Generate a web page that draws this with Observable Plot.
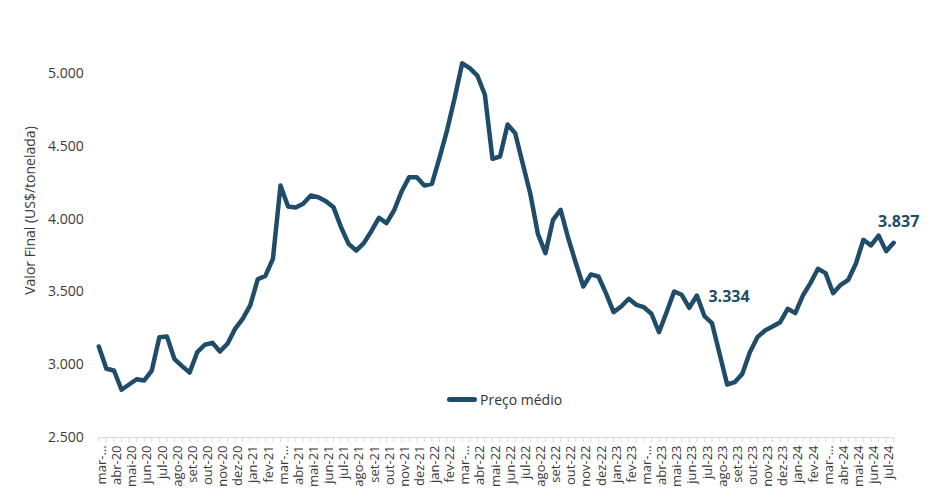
<!DOCTYPE html>
<html><head><meta charset="utf-8">
<script src="https://cdn.jsdelivr.net/npm/d3@7"></script>
<script src="https://cdn.jsdelivr.net/npm/@observablehq/plot@0.6"></script>
<style>
body{margin:0;background:#fff;font-family:"Open Sans",sans-serif;}
#wrap{position:relative;width:928px;height:500px;}
#legend{position:absolute;left:447px;top:390px;display:flex;align-items:center;font-size:14px;color:#333;white-space:nowrap;}
#legend .sw{display:inline-block;width:30px;height:5px;background:#1f4d69;border-radius:2.5px;margin-right:3px;}
</style></head><body>
<div id="wrap"><div id="legend"><span class="sw"></span>Preço médio</div></div>
<script>
const monthLabels = [
  "mar-20","abr-20","mai-20","jun-20","jul-20","ago-20","set-20","out-20","nov-20","dez-20",
  "jan-21","fev-21","mar-21","abr-21","mai-21","jun-21","jul-21","ago-21","set-21","out-21","nov-21","dez-21",
  "jan-22","fev-22","mar-22","abr-22","mai-22","jun-22","jul-22","ago-22","set-22","out-22","nov-22","dez-22",
  "jan-23","fev-23","mar-23","abr-23","mai-23","jun-23","jul-23","ago-23","set-23","out-23","nov-23","dez-23",
  "jan-24","fev-24","mar-24","abr-24","mai-24","jun-24","jul-24"
];
const precoMedio = [
  3125, 2972, 2960, 2828, 2864, 2900, 2892, 2960, 3189, 3194,
  3038, 2990, 2946, 3086, 3137, 3150, 3091, 3144, 3246, 3315,
  3407, 3587, 3610, 3727, 4231, 4087, 4080, 4105, 4162, 4150,
  4123, 4082, 3944, 3830, 3784, 3835, 3917, 4009, 3972, 4059,
  4190, 4288, 4288, 4231, 4242, 4420, 4610, 4830, 5070, 5037,
  4986, 4854, 4414, 4430, 4650, 4590, 4380, 4174, 3899, 3766,
  3995, 4064, 3870, 3700, 3537, 3620, 3606, 3490, 3361, 3400,
  3453, 3411, 3395, 3350, 3223, 3360, 3503, 3480, 3391, 3475,
  3334, 3285, 3075, 2864, 2880, 2937, 3086, 3189, 3235, 3262,
  3292, 3384, 3354, 3475, 3560, 3659, 3629, 3491, 3549, 3583,
  3693, 3858, 3819, 3887, 3780, 3837
];
const yTicks = [2500, 3000, 3500, 4000, 4500, 5000];
const annotMid = [80];
const annotLast = [105];
const yTitle = "Valor Final (US$/tonelada)";

const color = "#1f4d69";
const loc = d3.formatLocale({decimal: ",", thousands: ".", grouping: [3], currency: ["R$", ""]});
const fmt = loc.format(",d");
const data = precoMedio.map((v, i) => ({i, v}));
const allIdx = d3.range(precoMedio.length);
const labelIdx = monthLabels.map((m, k) => 2 * k);
const showLabel = i => {
  const m = monthLabels[i / 2];
  return m.startsWith("mar-") ? "mar-…" : m;
};

const chart = Plot.plot({
  width: 928, height: 500,
  marginLeft: 98.3, marginRight: 34.8, marginTop: 73, marginBottom: 63,
  style: {fontFamily: "Open Sans", background: "white", overflow: "visible"},
  x: {domain: [0, precoMedio.length - 1], axis: null},
  y: {domain: [2500, 5000], axis: null},
  marks: [
    Plot.axisY({ticks: yTicks, tickSize: 0, tickPadding: 15, tickFormat: fmt, fontSize: 14, color: "#3a3a3a", label: null}),
    Plot.ruleY([2500], {stroke: "#d9d9d9", strokeWidth: 1}),
    Plot.axisX({ticks: allIdx, tickSize: 5, tickFormat: () => "", stroke: "#d9d9d9", label: null}),
    Plot.axisX({ticks: labelIdx, tickSize: 0, tickPadding: 8, tickRotate: -90, textAnchor: "end", dx: 3, tickFormat: showLabel, fontSize: 13, color: "#3a3a3a", label: null}),
    Plot.text([yTitle], {frameAnchor: "left", dx: -68, dy: -45, rotate: -90, textAnchor: "middle", fontSize: 14, fill: "#3a3a3a"}),
    Plot.lineY(data, {x: "i", y: "v", stroke: color, strokeWidth: 4.5, strokeLinejoin: "round", strokeLinecap: "round"}),
    Plot.text(annotMid, {x: i => i, y: i => precoMedio[i], text: i => fmt(precoMedio[i]), dx: 4, dy: -19, textAnchor: "start", fontSize: 16, fontWeight: "bold", fill: color}),
    Plot.text(annotLast, {x: i => i, y: i => precoMedio[i], text: i => fmt(precoMedio[i]), dx: 5, dy: -21, textAnchor: "middle", fontSize: 16, fontWeight: "bold", fill: color})
  ]
});
document.getElementById("wrap").prepend(chart);
</script>
</body></html>
